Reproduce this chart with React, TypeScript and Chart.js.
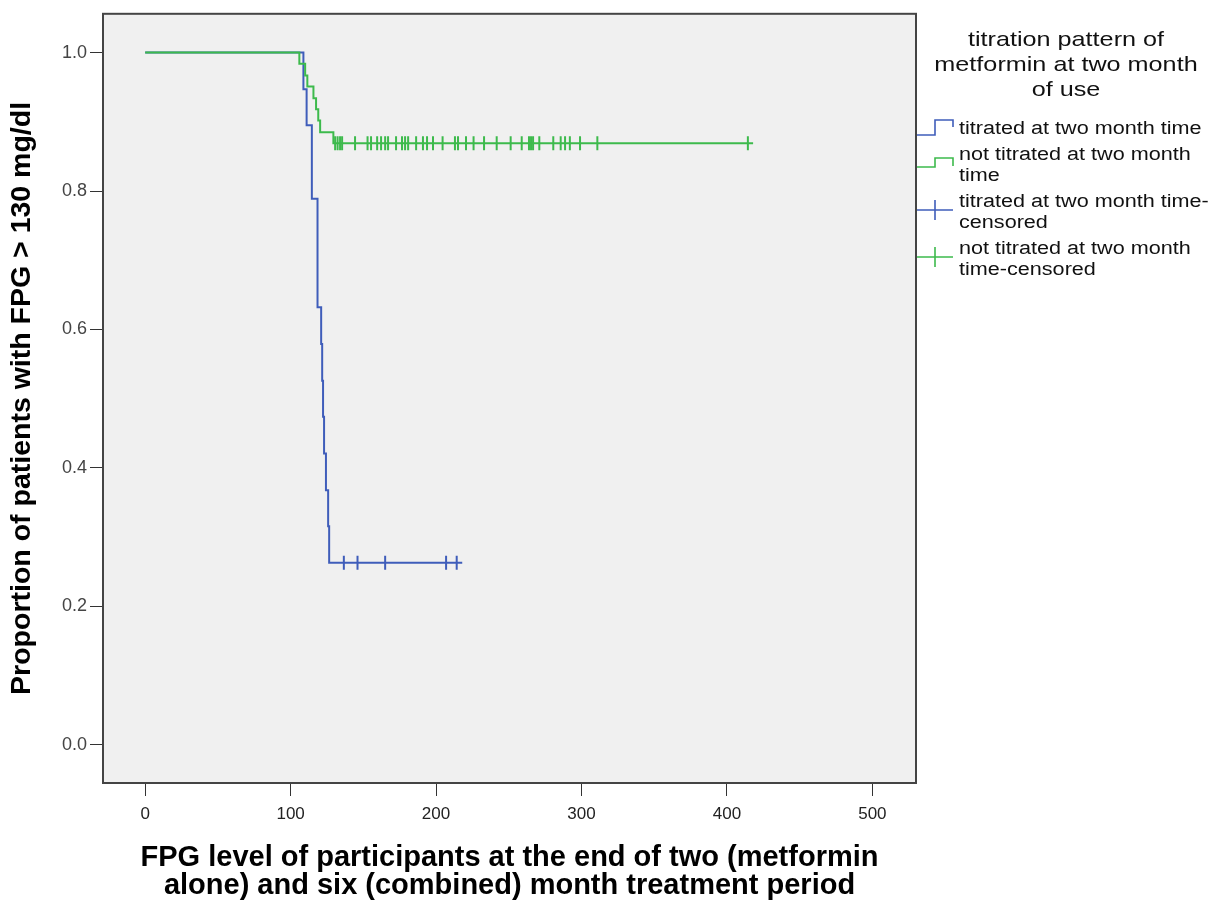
import React, { useEffect, useRef } from 'react';
import { Chart, registerables } from 'chart.js';

Chart.register(...registerables);

// ---------- data ----------
const xTickValues = [0, 100, 200, 300, 400, 500];
const yTickValues = [0, 0.2, 0.4, 0.6, 0.8, 1.0];

// titrated at two month time (Kaplan-Meier steps)
const blueTimes = [0, 108.8, 111, 114.6, 118.5, 121, 121.7, 122.3, 123, 124.3, 125.8, 126.5, 218];
const blueSurv = [1, 0.947, 0.895, 0.789, 0.632, 0.579, 0.526, 0.474, 0.421, 0.368, 0.316, 0.263, 0.263];
const blueCensored = [136.6, 146, 165, 206.9, 214.2];

// not titrated at two month time
const greenTimes = [0, 106, 110, 111.5, 115.7, 117.5, 119, 120.3, 129.4, 418];
const greenSurv = [1, 0.984, 0.967, 0.951, 0.934, 0.918, 0.902, 0.885, 0.869, 0.869];
const greenCensored = [
  130.6, 132.3, 134, 135.4, 144.3, 152.9, 155.3, 159.5, 162.2, 165, 167, 172.5,
  176.6, 178.7, 180.8, 186.3, 191, 193.8, 197.9, 204.5, 213, 215.1, 220.6, 225.8,
  233, 241.7, 251.3, 258.9, 263.9, 265.3, 266.7, 271, 280.6, 285.7, 288.7, 292,
  299, 310.9, 414.4,
];

const legendTitle = ['titration pattern of', 'metformin at two month', 'of use'];
const legendLabels = [
  ['titrated at two month time'],
  ['not titrated at two month', 'time'],
  ['titrated at two month time-', 'censored'],
  ['not titrated at two month', 'time-censored'],
];

const xTitle = ['FPG level of participants at the end of two (metformin', 'alone) and six (combined) month treatment period'];
const yTitle = 'Proportion of patients with FPG > 130 mg/dl';

// ---------- styles ----------
const BLUE = '#3f5dba';
const GREEN = '#3dba4c';
const SANS = "'Liberation Sans', Arial, sans-serif";

function levelAt(times: number[], surv: number[], t: number) {
  let s = surv[0];
  for (let i = 0; i < times.length; i++) if (times[i] <= t) s = surv[i];
  return s;
}

const toPts = (times: number[], surv: number[]) => times.map((x, i) => ({ x, y: surv[i] }));
const censorPts = (c: number[], times: number[], surv: number[]) => c.map((x) => ({ x, y: levelAt(times, surv, x) }));

const framePlugin = {
  id: 'frame',
  beforeDraw(chart: any) {
    const { ctx, chartArea: a } = chart;
    ctx.save();
    ctx.fillStyle = '#ffffff';
    ctx.fillRect(0, 0, chart.width, chart.height);
    ctx.fillStyle = '#f0f0f0';
    ctx.fillRect(a.left, a.top, a.right - a.left, a.bottom - a.top);
    ctx.restore();
  },
  beforeDatasetsDraw(chart: any) {
    const { ctx, chartArea: a } = chart;
    ctx.save();
    ctx.strokeStyle = '#444444';
    ctx.lineWidth = 2;
    ctx.strokeRect(a.left, a.top, a.right - a.left, a.bottom - a.top);
    ctx.restore();
  },
};

const SX = 1.2;
function wideText(ctx: CanvasRenderingContext2D, text: string, x: number, y: number, center = false) {
  const w = ctx.measureText(text).width * SX;
  ctx.save();
  ctx.translate(center ? x - w / 2 : x, y);
  ctx.scale(SX, 1);
  ctx.fillText(text, 0, 0);
  ctx.restore();
}

const legendPlugin = {
  id: 'kmLegend',
  afterDraw(chart: any) {
    const ctx: CanvasRenderingContext2D = chart.ctx;
    const L = chart.chartArea.right;
    ctx.save();
    ctx.fillStyle = '#111111';
    ctx.textBaseline = 'alphabetic';
    ctx.font = `21px ${SANS}`;
    legendTitle.forEach((line, i) => wideText(ctx, line, L + 150, 46 + i * 25, true));

    ctx.font = `18px ${SANS}`;
    const tx = L + 43;
    const baselines = [134, 160, 207, 254];
    legendLabels.forEach((lines, i) => {
      lines.forEach((line, j) => wideText(ctx, line, tx, baselines[i] + j * 21));
    });

    ctx.lineWidth = 1.6;
    const x0 = L + 1, xm = L + 19, x1 = L + 37;
    // step symbols
    ctx.strokeStyle = BLUE;
    ctx.beginPath();
    ctx.moveTo(x0, 135); ctx.lineTo(xm, 135); ctx.lineTo(xm, 120); ctx.lineTo(x1, 120); ctx.lineTo(x1, 127);
    ctx.stroke();
    ctx.strokeStyle = GREEN;
    ctx.beginPath();
    ctx.moveTo(x0, 167); ctx.lineTo(xm, 167); ctx.lineTo(xm, 158); ctx.lineTo(x1, 158); ctx.lineTo(x1, 166);
    ctx.stroke();
    // censored symbols
    ctx.strokeStyle = BLUE;
    ctx.beginPath();
    ctx.moveTo(x0, 210); ctx.lineTo(x1, 210); ctx.moveTo(xm, 200); ctx.lineTo(xm, 220);
    ctx.stroke();
    ctx.strokeStyle = GREEN;
    ctx.beginPath();
    ctx.moveTo(x0, 257); ctx.lineTo(x1, 257); ctx.moveTo(xm, 247); ctx.lineTo(xm, 267);
    ctx.stroke();
    ctx.restore();
  },
};

export default function App() {
  const ref = useRef<HTMLCanvasElement | null>(null);

  useEffect(() => {
    document.body.style.margin = '0';
    const canvas = ref.current;
    if (!canvas) return;
    const chart = new Chart(canvas, {
      type: 'line',
      data: {
        datasets: [
          {
            label: 'not titrated at two month time-censored',
            data: censorPts(greenCensored, greenTimes, greenSurv),
            showLine: false,
            pointStyle: 'line',
            rotation: 90,
            pointRadius: 7,
            pointBorderWidth: 2,
            borderColor: GREEN,
            backgroundColor: GREEN,
            order: 0,
          } as any,
          {
            label: 'titrated at two month time-censored',
            data: censorPts(blueCensored, blueTimes, blueSurv),
            showLine: false,
            pointStyle: 'line',
            rotation: 90,
            pointRadius: 7,
            pointBorderWidth: 2,
            borderColor: BLUE,
            backgroundColor: BLUE,
            order: 1,
          } as any,
          {
            label: 'not titrated at two month time',
            data: toPts(greenTimes, greenSurv),
            stepped: 'before',
            borderColor: GREEN,
            borderWidth: 2,
            pointRadius: 0,
            fill: false,
            order: 2,
          } as any,
          {
            label: 'titrated at two month time',
            data: toPts(blueTimes, blueSurv),
            stepped: 'before',
            borderColor: BLUE,
            borderWidth: 2,
            pointRadius: 0,
            fill: false,
            order: 3,
          } as any,
        ],
      },
      options: {
        responsive: false,
        animation: false,
        layout: { padding: { top: 10, right: 313, left: 0, bottom: 0 } },
        plugins: { legend: { display: false }, tooltip: { enabled: false } },
        scales: {
          x: {
            type: 'linear',
            min: -29,
            max: 530,
            afterBuildTicks: (s: any) => { s.ticks = xTickValues.map((v) => ({ value: v })); },
            afterFit: (s: any) => { s.height = 121; },
            grid: { drawOnChartArea: false, drawTicks: true, tickLength: 13, color: '#333333', lineWidth: 1 },
            border: { display: false },
            ticks: { font: { family: SANS, size: 17 }, color: '#222222', padding: 8, maxRotation: 0, autoSkip: false },
            title: {
              display: true,
              text: xTitle,
              font: { family: SANS, size: 29, weight: 'bold', lineHeight: 28 / 29 },
              color: '#000000',
              padding: { top: 0, bottom: 4 },
            },
          },
          y: {
            type: 'linear',
            min: -0.055,
            max: 1.056,
            afterBuildTicks: (s: any) => { s.ticks = yTickValues.map((v) => ({ value: v })); },
            afterFit: (s: any) => { s.width = 103; },
            grid: { drawOnChartArea: false, drawTicks: true, tickLength: 13, color: '#333333', lineWidth: 1 },
            border: { display: false },
            ticks: {
              callback: (v: any) => Number(v).toFixed(1),
              font: { family: SANS, size: 18 },
              color: '#444444',
              padding: 3,
              autoSkip: false,
            },
            title: {
              display: true,
              text: yTitle,
              font: { family: SANS, size: 28.5, weight: 'bold', lineHeight: 1.2 },
              color: '#000000',
              padding: { top: 5, bottom: 0 },
            },
          },
        },
      } as any,
      plugins: [framePlugin, legendPlugin],
    });
    return () => chart.destroy();
  }, []);

  return (
    <div style={{ width: 1229, height: 904, position: 'relative' }}>
      <canvas ref={ref} width={1229} height={904} style={{ display: 'block', width: 1229, height: 904 }} />
    </div>
  );
}
